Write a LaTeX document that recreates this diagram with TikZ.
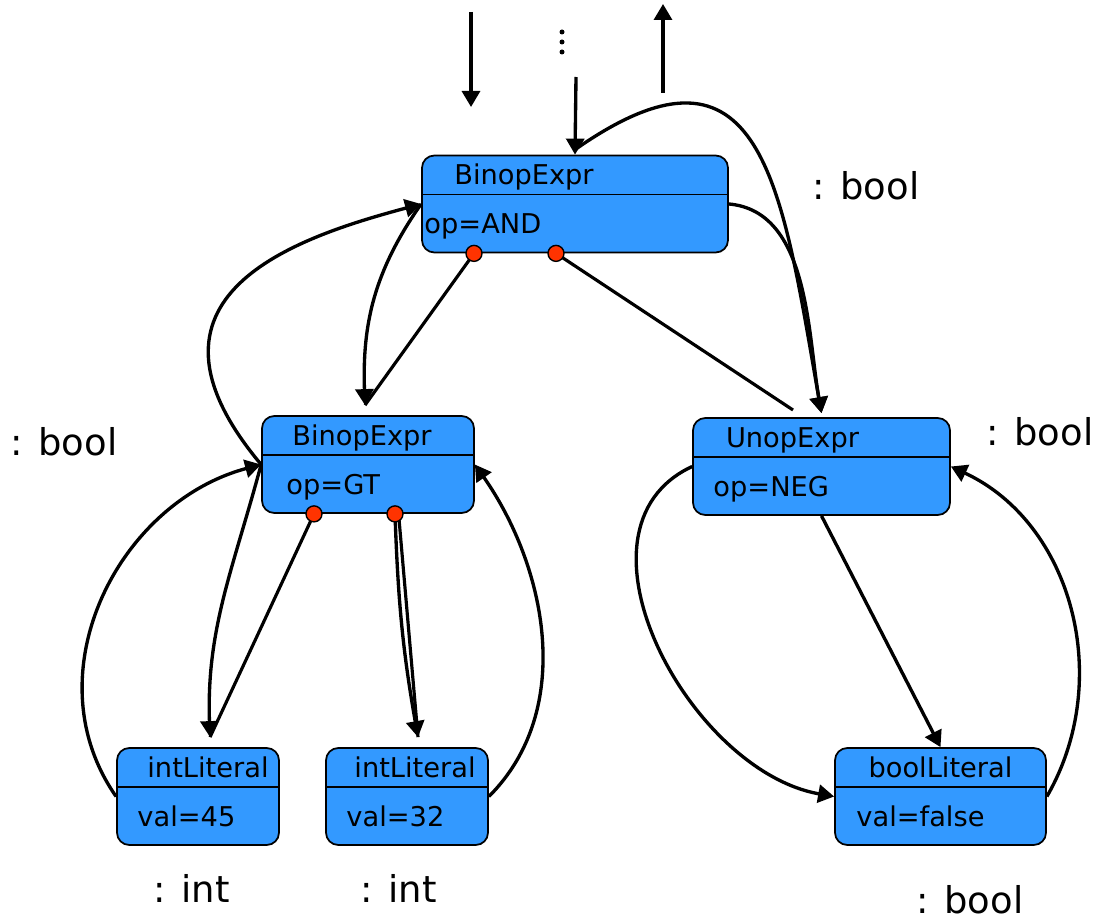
\documentclass[tikz,border=0pt]{standalone}
\usepackage{fontspec}
\setmainfont{DejaVu Sans}
\usetikzlibrary{arrows.meta, calc}
\definecolor{astblue}{RGB}{51, 153, 255}
\definecolor{portred}{RGB}{255, 51, 0}

\begin{document}
\begin{tikzpicture}[
    font=\fontsize{15.5}{18}\selectfont,
    astbox/.style={
        rectangle, rounded corners=7pt,
        draw=black, fill=astblue, line width=1pt,
        minimum height=1.94cm, inner sep=0pt
    },
    divider/.style={
        draw=black, line width=1pt
    },
    kind/.style={
        anchor=base, inner sep=0pt
    },
    attr/.style={
        anchor=base west, inner sep=0pt
    },
    typelbl/.style={
        anchor=base west, inner sep=0pt, font=\fontsize{21}{25}\selectfont
    },
    port/.style={
        circle, draw=black, fill=portred, line width=0.8pt,
        minimum size=0.32cm, inner sep=0pt
    },
    flow/.style={
        -{Triangle[length=0.32cm, width=0.36cm]},
        line width=1.9pt
    },
    astline/.style={
        line width=1.8pt
    }
]
\useasboundingbox (0,0) rectangle (21.88,18.46);

% 1. Raiz: BinopExpr (AND)
\node[astbox, minimum width=6.12cm] (and) at (11.5, 14.38) {};
\draw[divider] ([yshift=-0.8cm]and.north west) -- ([yshift=-0.8cm]and.north east);
\node[kind] (and-kind) at ([xshift=-1.02cm, yshift=-0.6cm]and.north) {BinopExpr};
\node[attr] (and-op) at ([xshift=0.06cm, yshift=-1.58cm]and.north west) {op=AND};

% 2. BinopExpr (GT)
\node[astbox, minimum width=4.24cm] (gt) at (7.36, 9.17) {};
\draw[divider] ([yshift=-0.8cm]gt.north west) -- ([yshift=-0.8cm]gt.north east);
\node[kind] (gt-kind) at ([xshift=-0.12cm, yshift=-0.6cm]gt.north) {BinopExpr};
\node[attr] (gt-op) at ([xshift=0.5cm, yshift=-1.58cm]gt.north west) {op=GT};

% 3. UnopExpr (NEG)
\node[astbox, minimum width=5.14cm] (unop) at (16.43, 9.13) {};
\draw[divider] ([yshift=-0.8cm]unop.north west) -- ([yshift=-0.8cm]unop.north east);
\node[kind] (unop-kind) at ([xshift=-0.58cm, yshift=-0.6cm]unop.north) {UnopExpr};
\node[attr] (unop-op) at ([xshift=0.42cm, yshift=-1.58cm]unop.north west) {op=NEG};

% 4. Folhas
\node[astbox, minimum width=3.24cm] (int45) at (3.96, 2.53) {};
\draw[divider] ([yshift=-0.8cm]int45.north west) -- ([yshift=-0.8cm]int45.north east);
\node[kind] (int45-kind) at ([xshift=0.2cm, yshift=-0.6cm]int45.north) {intLiteral};
\node[attr] (int45-val) at ([xshift=0.42cm, yshift=-1.58cm]int45.north west) {val=45};

\node[astbox, minimum width=3.24cm] (int32) at (8.14, 2.53) {};
\draw[divider] ([yshift=-0.8cm]int32.north west) -- ([yshift=-0.8cm]int32.north east);
\node[kind] (int32-kind) at ([xshift=0.16cm, yshift=-0.6cm]int32.north) {intLiteral};
\node[attr] (int32-val) at ([xshift=0.42cm, yshift=-1.58cm]int32.north west) {val=32};

\node[astbox, minimum width=4.22cm] (bool) at (18.81, 2.53) {};
\draw[divider] ([yshift=-0.8cm]bool.north west) -- ([yshift=-0.8cm]bool.north east);
\node[kind] (bool-kind) at ([yshift=-0.6cm]bool.north) {boolLiteral};
\node[attr] (bool-val) at ([xshift=0.44cm, yshift=-1.58cm]bool.north west) {val=false};

% Tipos inferidos
\node[typelbl] (and-type) at (16.24, 14.46) {: bool};
\node[typelbl] (gt-type) at (0.2, 9.36) {: bool};
\node[typelbl] (unop-type) at (19.72, 9.56) {: bool};
\node[typelbl] (int45-type) at (3.06, 0.42) {: int};
\node[typelbl] (int32-type) at (7.2, 0.42) {: int};
\node[typelbl] (bool-type) at (18.32, 0.2) {: bool};

% Pontos de chegada dos filhos
\coordinate (gt-in) at ([xshift=-0.06cm, yshift=0.2cm]gt.north);
\coordinate (int45-in) at ([xshift=0.24cm, yshift=0.2cm]int45.north);
\coordinate (int32-in) at ([xshift=0.22cm, yshift=0.2cm]int32.north);
\coordinate (unop-in) at ([yshift=0.08cm]unop.north);
\coordinate (unop-stub) at (15.86, 10.26);

% Contexto acima da raiz
\coordinate (ctx-a) at (9.42, 18.22);
\coordinate (ctx-b) at (9.42, 16.32);
\coordinate (ctx-c) at (11.52, 16.92);
\coordinate (res-a) at (13.26, 16.6);
\coordinate (res-b) at (13.26, 18.38);
\coordinate (dots) at (11.24, 17.82);

\draw[flow] (ctx-a) -- (ctx-b);
\draw[flow] (ctx-c) -- (and.north);
\draw[flow] (res-a) -- (res-b);
\foreach \k in {0,1,2}
    \fill ($(dots)+(0,-0.2*\k)$) circle (0.05cm);

% ================= Arestas da AST =================
\draw[astline] ([xshift=-2.02cm]and.south) -- (gt-in);
\draw[astline] ([xshift=-0.38cm]and.south) -- (unop-stub);
\draw[astline] ([xshift=-1.08cm]gt.south) -- (int45-in);
\draw[astline] ([xshift=0.62cm, yshift=-0.1cm]gt.south) -- (int32-in);

% ================= Fluxo de atributos =================

% Raiz -> UnopExpr
\draw[flow] ([yshift=0.1cm]and.north) to[out=35, in=100, looseness=1.63] (unop-in);
\draw[flow] (and.east) to[out=-5, in=100, looseness=0.9] (unop-in);

% Raiz <-> BinopExpr (GT)
\draw[flow] (gt.west) to[out=130, in=195, out looseness=1.84, in looseness=1.09] (and.west);
\draw[flow] (and.west) to[out=235, in=92] (gt-in);

% BinopExpr (GT) <-> intLiteral 45
\draw[flow] (int45.west) to[out=125, in=195, looseness=1.05] (gt.west);
\draw[flow] (gt.west) to[out=255, in=92] (int45-in);

% BinopExpr (GT) <-> intLiteral 32
\draw[flow] ([xshift=0.54cm]gt.south) to[out=-88, in=100] (int32-in);
\draw[flow] (int32.east) to[out=45, in=-55, looseness=0.95] (gt.east);

% UnopExpr <-> boolLiteral
\draw[flow] (unop.south) -- (bool.north);
\draw[flow] (unop.west) to[out=205, in=170, looseness=1.05] (bool.west);
\draw[flow] (bool.east) to[out=60, in=-25, looseness=1.0] (unop.east);

% Portas dos filhos
\node[port] (and-p1) at ([xshift=-2.02cm]and.south) {};
\node[port] (and-p2) at ([xshift=-0.38cm]and.south) {};
\node[port] (gt-p1) at ([xshift=-1.08cm]gt.south) {};
\node[port] (gt-p2) at ([xshift=0.54cm]gt.south) {};

\end{tikzpicture}
\end{document}
